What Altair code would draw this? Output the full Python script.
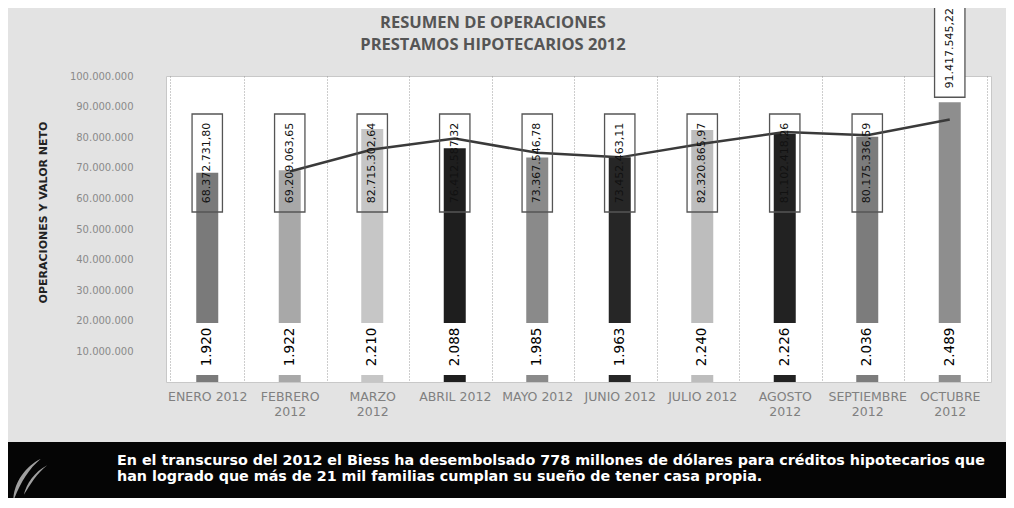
import altair as alt
import pandas as pd

meses = ["ENERO 2012", "FEBRERO\n2012", "MARZO\n2012", "ABRIL 2012", "MAYO 2012",
         "JUNIO 2012", "JULIO 2012", "AGOSTO\n2012", "SEPTIEMBRE\n2012", "OCTUBRE\n2012"]
valor_neto = [68372731.80, 69209063.65, 82715302.64, 76412587.32, 73367546.78,
              73452463.11, 82320865.97, 81102418.26, 80175336.59, 91417545.22]
operaciones = [1920, 1922, 2210, 2088, 1985, 1963, 2240, 2226, 2036, 2489]
colores = ["#7a7a7a", "#a8a8a8", "#c6c6c6", "#1e1e1e", "#8a8a8a",
           "#262626", "#bdbdbd", "#222222", "#7c7c7c", "#8e8e8e"]
titulo = ["RESUMEN DE OPERACIONES", "PRESTAMOS HIPOTECARIOS 2012"]
eje_y = "OPERACIONES Y VALOR NETO"
ticks_y = [10000000, 20000000, 30000000, 40000000, 50000000,
           60000000, 70000000, 80000000, 90000000, 100000000]
nota = ["En el transcurso del 2012 el Biess ha desembolsado 778 millones de dólares para créditos hipotecarios que",
        "han logrado que más de 21 mil familias cumplan su sueño de tener casa propia."]


def es_num(v, dec):
    s = f"{v:,.{dec}f}"
    return s.replace(",", "#").replace(".", ",").replace("#", ".")


df = pd.DataFrame({
    "mes": meses,
    "orden": list(range(len(meses))),
    "valor": valor_neto,
    "ops": operaciones,
    "valor_txt": [es_num(v, 2) for v in valor_neto],
    "ops_txt": [es_num(v, 0) for v in operaciones],
})

W, H = 825, 306
xs = alt.X("mes:N", sort=meses)
x = alt.X("mes:N", sort=meses, title=None,
          axis=alt.Axis(labelExpr="split(datum.label, '\\n')", labelAngle=0,
                        labelFontSize=12.5, labelColor="#808080", labelFont="DejaVu Sans",
                        labelPadding=8, domain=False, ticks=False, grid=True,
                        tickBand="extent", gridDash=[1, 2], gridColor="#9a9a9a",
                        labelLineHeight=15))
y_scale = alt.Scale(domain=[0, 100000000], nice=False)
y_axis = alt.Axis(values=ticks_y,
                  labelExpr="replace(format(datum.value, ',d'), regexp(',', 'g'), '.')",
                  labelFontSize=10, labelColor="#8a8a8a", labelFont="DejaVu Sans",
                  labelPadding=33, labelOverlap=False, labelBound=False, ticks=False,
                  domain=False, grid=False, titleFontSize=11, titleFontWeight="bold",
                  titleColor="#222", titleFont="DejaVu Sans", titleX=-123,
                  titleY=136, titleAngle=270, titleAlign="center",
                  titleBaseline="middle")
color = alt.Color("mes:N", sort=meses, scale=alt.Scale(domain=meses, range=colores), legend=None)

base = alt.Chart(df)

bars = base.mark_bar(size=22).encode(
    x=x, y=alt.Y("valor:Q", scale=y_scale, title=eje_y, axis=y_axis), color=color)

ticks_ops = base.mark_tick(size=20, thickness=4, yOffset=-3).encode(
    x=xs, y=alt.Y("ops:Q", scale=y_scale, title=eje_y, axis=y_axis), color=color)

fondo = "M-0.5,-1L0.5,-1L0.5,1L-0.5,1Z"
ops_box = base.mark_point(shape=fondo, size=2704, filled=True, fill="white",
                          strokeWidth=0, opacity=1, yOffset=-33).encode(
    x=xs, y=alt.Y("ops:Q", scale=y_scale, title=eje_y, axis=y_axis))
ops_text = base.mark_text(angle=270, align="center", baseline="middle", yOffset=-35,
                          fontSize=13.5, font="DejaVu Sans", color="#000").encode(
    x=xs, y=alt.Y("ops:Q", scale=y_scale, title=eje_y, axis=y_axis), text="ops_txt:N")

line = base.transform_window(
    media="mean(valor)", frame=[-1, 0], sort=[alt.SortField("orden")]
).transform_filter("datum.orden > 0").mark_line(color="#3a3a3a", strokeWidth=2.5).encode(
    x=xs, y=alt.Y("media:Q", scale=y_scale, title=eje_y, axis=y_axis))

caja = "M-0.31,-1L0.31,-1L0.31,1L-0.31,1Z"
normal = base.transform_filter("datum.valor < 90000000")
alto = base.transform_filter("datum.valor >= 90000000")

box1 = normal.mark_point(shape=caja, size=9604, filled=False,
                         stroke="#555", strokeWidth=1.3, opacity=1).encode(
    x=xs, y=alt.value(87))
txt1 = normal.mark_text(angle=270, align="center", baseline="middle", fontSize=11,
                        font="DejaVu Sans", color="#111").encode(
    x=xs, y=alt.value(87), text="valor_txt:N")
box2 = alto.mark_point(shape=caja, size=9604, filled=True, fill="white",
                       stroke="#555", strokeWidth=1.3, opacity=1, yOffset=-54).encode(
    x=xs, y=alt.Y("valor:Q", scale=y_scale, title=eje_y, axis=y_axis))
txt2 = alto.mark_text(angle=270, align="center", baseline="middle", fontSize=11,
                      font="DejaVu Sans", color="#111", yOffset=-54).encode(
    x=xs, y=alt.Y("valor:Q", scale=y_scale, title=eje_y, axis=y_axis), text="valor_txt:N")

deco = pd.DataFrame({"k": [0]})
titulo_txt = alt.Chart(deco).mark_text(
    text=titulo, align="center", baseline="top", fontSize=16.5, lineHeight=22,
    font="Open Sans", fontWeight="bold", color="#555").encode(
    x=alt.value(327), y=alt.value(-61))
banda = alt.Chart(deco).mark_rect(color="#050505").encode(
    x=alt.value(-158), x2=alt.value(W + 15), y=alt.value(366), y2=alt.value(424))
banda_txt = alt.Chart(deco).mark_text(
    text=nota, align="left", baseline="top", fontSize=14.3, lineHeight=16,
    font="DejaVu Sans", fontWeight="bold", color="white").encode(
    x=alt.value(-49), y=alt.value(378))
logo = alt.Chart(deco).mark_point(
    shape="M0.7,-1C-0.1,-0.6 -0.6,0.2 -0.6,1C-0.3,0.2 0.1,-0.5 0.7,-1Z"
          "M1,-0.7C0.4,-0.4 0,0.2 -0.1,0.7C0.2,0.2 0.5,-0.3 1,-0.7Z",
    size=1800, filled=True, fill="#a0a0a0", strokeWidth=0, opacity=1).encode(
    x=alt.value(-140), y=alt.value(404))

chart = alt.layer(bars, ticks_ops, ops_box, ops_text, line, box1, txt1, box2, txt2,
                  titulo_txt, banda, banda_txt, logo).properties(
    width=W, height=H,
    autosize=alt.AutoSizeParams(type="none"),
    padding={"left": 158, "top": 68, "right": 15, "bottom": 116},
    background="#e3e3e3",
).configure_view(fill="white", stroke="#c8c8c8").configure_axisY(labelOverlap=False)

chart.save("out.html", embed_options={"renderer": "svg", "actions": False})
